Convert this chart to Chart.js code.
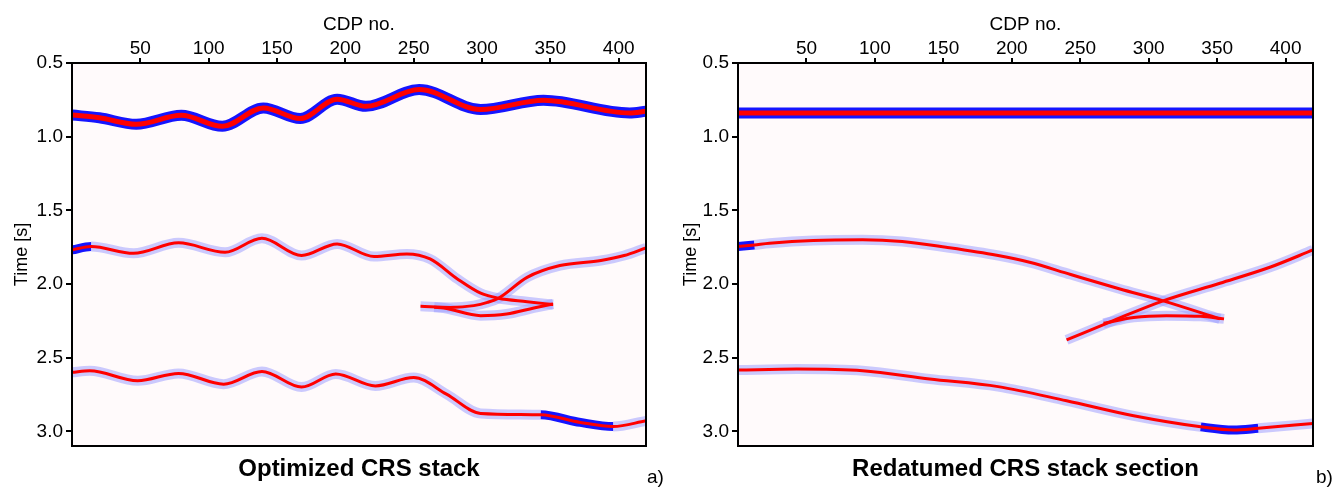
<!DOCTYPE html>
<html><head><meta charset="utf-8">
<script src="https://cdn.jsdelivr.net/npm/chart.js@4.4.1/dist/chart.umd.min.js"></script>
<style>
html,body{margin:0;padding:0;background:#fff;width:1338px;height:491px;overflow:hidden}
#wrap{position:relative;width:1338px;height:491px}
canvas{position:absolute;top:0}
#c1{left:0}#c2{left:669px}
</style></head><body>
<div id="wrap"><canvas id="c1" width="669" height="491"></canvas><canvas id="c2" width="669" height="491"></canvas></div>
<script>
// ---- tick labels ----
const cdpTicks = [50,100,150,200,250,300,350,400];
const timeTicks = [0.5,1.0,1.5,2.0,2.5,3.0];

// ---- panel a) Optimized CRS stack ----
const a_ev1_cdp = [0,20,47,80,110,140,167,194,215,254,299,345,408,420];
const a_ev1_t   = [0.853,0.872,0.916,0.855,0.930,0.805,0.877,0.746,0.794,0.680,0.816,0.753,0.839,0.828];

const a_ev2_cdp = [0,14,45,78,112,139,168,194,221,245,262,282,299,312,333,352];
const a_ev2_t   = [1.769,1.746,1.792,1.721,1.785,1.690,1.807,1.728,1.814,1.796,1.830,1.966,2.063,2.097,2.120,2.140];

const a_br_cdp  = [255,277,294,304,312,333,357,387,404,420];
const a_br_t    = [2.152,2.159,2.147,2.125,2.097,1.955,1.875,1.841,1.807,1.755];

const a_cau_cdp = [265,272,299,318,338,352];
const a_cau_t   = [2.158,2.163,2.215,2.204,2.163,2.136];

const a_ev3_cdp = [0,13,48,78,111,139,168,193,222,250,274,299,343,372,396,420];
const a_ev3_t   = [2.600,2.589,2.657,2.607,2.680,2.594,2.700,2.611,2.692,2.635,2.748,2.879,2.888,2.940,2.968,2.929];

// ---- panel b) Redatumed CRS stack section ----
const b_ev1_cdp = [0,100,200,300,420];
const b_ev1_t   = [0.840,0.840,0.840,0.840,0.840];

const b_ev2_cdp = [0,12,23,55,91,120,152,189,213,243,279,310,352];
const b_ev2_t   = [1.746,1.735,1.724,1.705,1.700,1.712,1.751,1.805,1.853,1.936,2.034,2.113,2.237];

const b_br_cdp  = [240,275,311,352,389,420];
const b_br_t    = [2.380,2.245,2.113,1.995,1.885,1.769];

const b_cau_cdp = [267,289,313,338,355];
const b_cau_t   = [2.267,2.227,2.215,2.220,2.237];

const b_ev3_cdp = [0,43,91,140,190,240,289,338,362,380,420];
const b_ev3_t   = [2.584,2.578,2.589,2.645,2.697,2.793,2.895,2.970,2.992,2.980,2.947];

// ---- strong-amplitude (dark blue) CDP ranges ----
const a_patch2 = [0,14];
const a_patch3 = [343,396];
const b_patch2 = [0,12];
const b_patch3 = [338,380];

const FONT = '"Liberation Sans", Arial, sans-serif';
const RED = '#ff0000';
const DARKBLUE = '#1515ff';
const LIGHTBLUE = 'rgba(160,160,255,0.55)';

function pts(cdp, t){ return cdp.map((c,i)=>({x:c, y:t[i]})); }
function line(data, color, width, order, extra){
  return Object.assign({data, borderColor:color, borderWidth:width, order, pointRadius:0,
          cubicInterpolationMode:'monotone', fill:false, clip:0, borderCapStyle:'butt'}, extra||{});
}
function strongEvent(cdp,t){
  const p=pts(cdp,t);
  return [line(p,DARKBLUE,11,5), line(p,RED,5,1)];
}
function weakEvent(cdp,t,patchRange){
  const p=pts(cdp,t);
  const ext = patchRange ? {segment:{
      borderColor: c => (c.p0.parsed.x>=patchRange[0] && c.p1.parsed.x<=patchRange[1]) ? DARKBLUE : LIGHTBLUE,
      borderWidth: c => (c.p0.parsed.x>=patchRange[0] && c.p1.parsed.x<=patchRange[1]) ? 9 : 10
    }} : {};
  return [line(p,LIGHTBLUE,10,6,ext), line(p,RED,3,1)];
}

const framePlugin = {
  id:'frame',
  beforeDatasetsDraw(chart){
    const {ctx, chartArea:a}=chart;
    ctx.save(); ctx.fillStyle='#fffafb'; ctx.fillRect(a.left,a.top,a.right-a.left,a.bottom-a.top); ctx.restore();
  },
  afterDatasetsDraw(chart){
    const {ctx, chartArea:a}=chart;
    ctx.save(); ctx.strokeStyle='#000'; ctx.lineWidth=2;
    ctx.strokeRect(a.left,a.top,a.right-a.left,a.bottom-a.top); ctx.restore();
  },
  afterDraw(chart, args, opts){
    const {ctx, chartArea:a}=chart;
    ctx.save(); ctx.fillStyle='#000'; ctx.textBaseline='middle';
    ctx.font='bold 24px '+FONT; ctx.textAlign='center';
    ctx.fillText(opts.caption,(a.left+a.right)/2,469);
    ctx.font='19px '+FONT; ctx.textAlign='left';
    ctx.fillText(opts.tag,647,478);
    ctx.restore();
  }
};

function makeChart(id, datasets, caption, tag, yw, rpad){
  return new Chart(document.getElementById(id), {
    type:'line',
    data:{datasets},
    options:{
      responsive:false, animation:false, devicePixelRatio:1,
      layout:{padding:{left:0,right:rpad,top:0,bottom:45}},
      plugins:{legend:{display:false}, tooltip:{enabled:false}, frame:{caption, tag}},
      scales:{
        x:{type:'linear', position:'top', min:0, max:420,
          afterBuildTicks:s=>{ s.ticks=cdpTicks.map(v=>({value:v})); },
          afterFit:s=>{ s.height=63; },
          ticks:{font:{family:FONT,size:19}, color:'#000', padding:-2, maxRotation:0, autoSkip:false},
          grid:{drawOnChartArea:false, tickLength:5, color:'#000', lineWidth:2},
          border:{display:true, color:'#000', width:2},
          title:{display:true, text:'CDP no.', font:{family:FONT,size:19}, color:'#000', padding:{top:13,bottom:0}}
        },
        y:{type:'linear', position:'left', min:0.5, max:3.1, reverse:true,
          afterBuildTicks:s=>{ s.ticks=timeTicks.map(v=>({value:v})); },
          afterFit:s=>{ s.width=yw; },
          ticks:{font:{family:FONT,size:19}, color:'#000', padding:3, autoSkip:false, callback:v=>Number(v).toFixed(1)},
          grid:{drawOnChartArea:false, tickLength:6, color:'#000', lineWidth:2},
          border:{display:true, color:'#000', width:2},
          title:{display:true, text:'Time [s]', font:{family:FONT,size:18}, color:'#000', padding:{top:11,bottom:0}}
        }
      }
    },
    plugins:[framePlugin]
  });
}

const dsA = [
  ...strongEvent(a_ev1_cdp,a_ev1_t),
  ...weakEvent(a_ev2_cdp,a_ev2_t,a_patch2),
  ...weakEvent(a_br_cdp,a_br_t),
  ...weakEvent(a_cau_cdp,a_cau_t),
  ...weakEvent(a_ev3_cdp,a_ev3_t,a_patch3),
];
const dsB = [
  ...strongEvent(b_ev1_cdp,b_ev1_t),
  ...weakEvent(b_ev2_cdp,b_ev2_t,b_patch2),
  ...weakEvent(b_br_cdp,b_br_t),
  ...weakEvent(b_cau_cdp,b_cau_t),
  ...weakEvent(b_ev3_cdp,b_ev3_t,b_patch3),
];

makeChart('c1', dsA, 'Optimized CRS stack', 'a)', 72, 23);
makeChart('c2', dsB, 'Redatumed CRS stack section', 'b)', 69, 25);
</script>
</body></html>
